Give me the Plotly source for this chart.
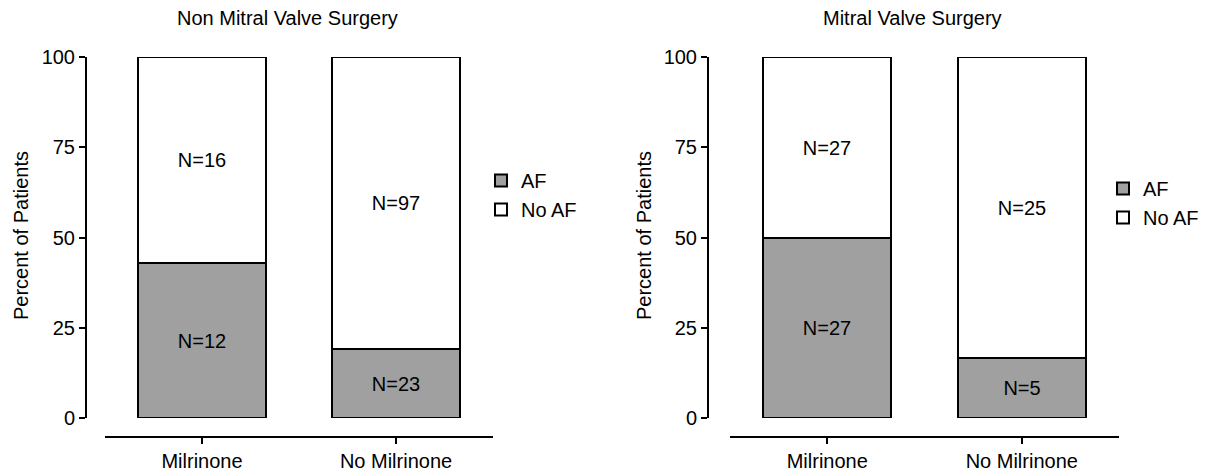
import plotly.graph_objects as go

W, H = 1218, 472

categories = ["Milrinone", "No Milrinone"]
panel_titles = ["Non Mitral Valve Surgery", "Mitral Valve Surgery"]
y_title = "Percent of Patients"
# patient counts per group
non_mitral_af = [12, 23]
non_mitral_no_af = [16, 97]
mitral_af = [27, 5]
mitral_no_af = [27, 25]
y_ticks = [0, 25, 50, 75, 100]

AF_COLOR = "#a0a0a0"
FONT = "Liberation Sans, Arial, sans-serif"
OFF = 8  # page body margin


def px(x):
    return (x - OFF) / W


def py(y):
    return 1 - (y - OFF) / H


def pct(part, other):
    return [100.0 * a / (a + b) for a, b in zip(part, other)]


fig = go.Figure()

panels = [
    (non_mitral_af, non_mitral_no_af, "x", "y", "legend"),
    (mitral_af, mitral_no_af, "x2", "y2", "legend2"),
]
for af, noaf, xa, ya, lg in panels:
    fig.add_trace(go.Bar(
        x=categories, y=pct(af, noaf), name="AF", xaxis=xa, yaxis=ya, legend=lg,
        marker=dict(color=AF_COLOR, line=dict(color="black", width=2)),
        width=0.66, text=[f"N={n}" for n in af], textposition="inside",
        insidetextanchor="middle", textangle=0,
        textfont=dict(size=20, color="black", family=FONT),
    ))
    fig.add_trace(go.Bar(
        x=categories, y=pct(noaf, af), name="No AF", xaxis=xa, yaxis=ya, legend=lg,
        marker=dict(color="white", line=dict(color="black", width=2)),
        width=0.66, text=[f"N={n}" for n in noaf], textposition="inside",
        insidetextanchor="middle", textangle=0,
        textfont=dict(size=20, color="black", family=FONT),
    ))

y_dom = [py(418), py(57)]
x_pos = py(437)

common_x = dict(range=[-0.5, 1.5], showline=True, linecolor="black", linewidth=2,
                ticks="outside", ticklen=6, tickwidth=2, tickcolor="black",
                showgrid=False, zeroline=False, anchor="free", position=x_pos,
                automargin=False,
                tickfont=dict(size=20, color="black", family=FONT), fixedrange=True)
common_y = dict(range=[0, 100], tickvals=y_ticks, showline=True, linecolor="black", linewidth=2,
                ticks="outside", ticklen=6, tickwidth=2, tickcolor="black",
                showgrid=False, zeroline=False, domain=y_dom, anchor="free",
                automargin=False,
                tickfont=dict(size=20, color="black", family=FONT))

leg_common = dict(xanchor="left", yanchor="top", bgcolor="rgba(0,0,0,0)",
                  font=dict(size=20, family=FONT, color="black"),
                  traceorder="normal", itemwidth=30)

ann_font = dict(size=20, family=FONT, color="black")

fig.update_layout(
    width=W, height=H, margin=dict(l=0, r=0, t=0, b=0, autoexpand=False),
    paper_bgcolor="white", plot_bgcolor="white",
    barmode="stack", bargap=0,
    font=dict(family=FONT, size=20, color="black"),
    xaxis=dict(domain=[px(105), px(493)], **common_x),
    xaxis2=dict(domain=[px(730), px(1119)], **common_x),
    yaxis=dict(position=px(86), **common_y),
    yaxis2=dict(position=px(708), **common_y),
    legend=dict(x=px(481), y=py(161), **leg_common),
    legend2=dict(x=px(1103), y=py(169), **leg_common),
    annotations=[
        dict(text=panel_titles[0], x=px(287), y=py(18), xref="paper", yref="paper",
             xanchor="center", yanchor="middle", showarrow=False, font=ann_font),
        dict(text=panel_titles[1], x=px(912), y=py(18), xref="paper", yref="paper",
             xanchor="center", yanchor="middle", showarrow=False, font=ann_font),
        dict(text=y_title, x=px(21), y=py(236), xref="paper", yref="paper",
             xanchor="center", yanchor="middle", textangle=-90, showarrow=False, font=ann_font),
        dict(text=y_title, x=px(644), y=py(236), xref="paper", yref="paper",
             xanchor="center", yanchor="middle", textangle=-90, showarrow=False, font=ann_font),
    ],
)

fig.write_html("out.html")
